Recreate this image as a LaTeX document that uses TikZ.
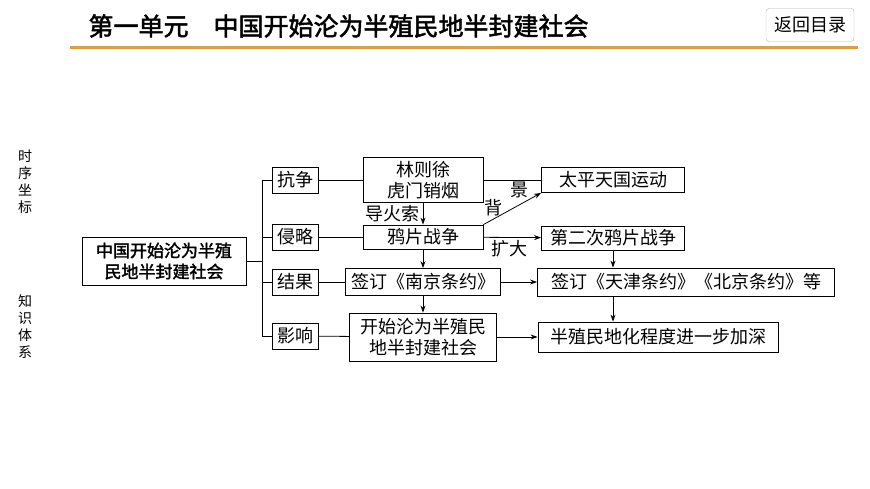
\documentclass[tikz,border=0pt]{standalone}
\usepackage{fontspec}
\usetikzlibrary{arrows.meta,positioning}
\newfontfamily\cjk{Noto Sans CJK SC}
\newfontfamily\cjkbold[FakeBold=2]{Noto Sans CJK SC}

\begin{document}
\begin{tikzpicture}[x=1pt,y=-1pt,font=\cjk\fontsize{18}{20}\selectfont]
	\tikzstyle{Box}	= [draw, thick, inner sep=0pt, align=center]
	\tikzstyle{Tag}	= [Box, minimum width=46pt, minimum height=26pt]
	\tikzstyle{Link}	= [thick]
	\tikzstyle{Flow}	= [thick, -{Stealth[length=7pt,width=5pt]}]
	\tikzstyle{Note}	= [inner sep=0pt]

	\useasboundingbox (0,0) rectangle (870,489);

	% header
	\node (title) at (85,26) [anchor=west, font=\cjkbold\fontsize{25}{27}\selectfont] {第一单元\hspace{1em}中国开始沦为半殖民地半封建社会};
	\draw [line width=3pt, color={rgb,255:red,217;green,160;blue,64}] (70,48) -- (858,48);
	\node (back) at (810,25) [draw=gray!60, rounded corners=3pt, minimum width=88pt, minimum height=33pt, font=\cjk\fontsize{18}{20}\selectfont] {返回目录};

	% side labels
	\node (side1) at (25,182) [Note, align=center, font=\cjk\fontsize{14}{17}\selectfont] {时\\序\\坐\\标};
	\node (side2) at (25,327) [Note, align=center, font=\cjk\fontsize{14}{17}\selectfont] {知\\识\\体\\系};

	% boxes
	\node (root) at (164,261) [Box, minimum width=164pt, minimum height=48pt, font=\cjkbold\fontsize{17}{21}\selectfont] {中国开始沦为半殖\\民地半封建社会};
	\node (c1) at (295,180) [Tag] {抗争};
	\node (c2) at (295,237) [Tag] {侵略};
	\node (c3) at (295,282) [Tag] {结果};
	\node (c4) at (295,336) [Tag] {影响};

	\node (lin) at (423,180) [Box, minimum width=120pt, minimum height=45pt, font=\cjk\fontsize{18}{21}\selectfont] {林则徐\\虎门销烟};
	\node (war) at (423,237) [Box, minimum width=120pt, minimum height=24pt] {鸦片战争};
	\node (nj) at (423,282) [Box, minimum width=155pt, minimum height=27pt] {签订《南京条约》};
	\node (semi) at (423,337) [Box, minimum width=147pt, minimum height=48pt, font=\cjk\fontsize{18}{21}\selectfont] {开始沦为半殖民\\地半封建社会};

	\node (tp) at (613,180) [Box, minimum width=143pt, minimum height=25pt] {太平天国运动};
	\node (war2) at (613,238) [Box, minimum width=143pt, minimum height=24pt] {第二次鸦片战争};
	\node (tj) at (686,282) [Box, minimum width=297pt, minimum height=28pt] {签订《天津条约》《北京条约》等};
	\node (deep) at (658,337) [Box, minimum width=240pt, minimum height=30pt] {半殖民地化程度进一步加深};

	% tree
	\coordinate (spine) at (262,261);
	\draw [Link] (root) -- (spine);
	\draw [Link] (262,180) -- (262,336);
	\foreach \c in {c1,c2,c3,c4}
		\draw [Link] (\c.west) -- (\c.west -| spine);
	\draw [Link] (c1) -- (lin);
	\draw [Link] (c2) -- (war);
	\draw [Link] (c3) -- (nj);
	\draw [Link] (c4) -- (semi);

	% flow
	\draw [Flow] (lin) -- (war) node [Note, midway, left=3pt] {导火索};
	\draw [Flow] (war) -- (nj);
	\draw [Flow] (nj) -- (semi);
	\draw [Link] (lin) -- (tp);
	\draw [Flow] (war.north east) -- (tp.south west);
	\node (bei) at (493,208) [Note] {背};
	\node (jing) at (519,190) [Note] {景};
	\draw [Flow] (war) -- (war2) node [Note, pos=0.45, below=3pt] {扩大};
	\draw [Flow] (war2) -- (war2 |- tj.north);
	\draw [Flow] (nj) -- (tj);
	\draw [Flow] (war2 |- tj.south) -- (war2 |- deep.north);
	\draw [Flow] (semi) -- (deep);
\end{tikzpicture}
\end{document}
